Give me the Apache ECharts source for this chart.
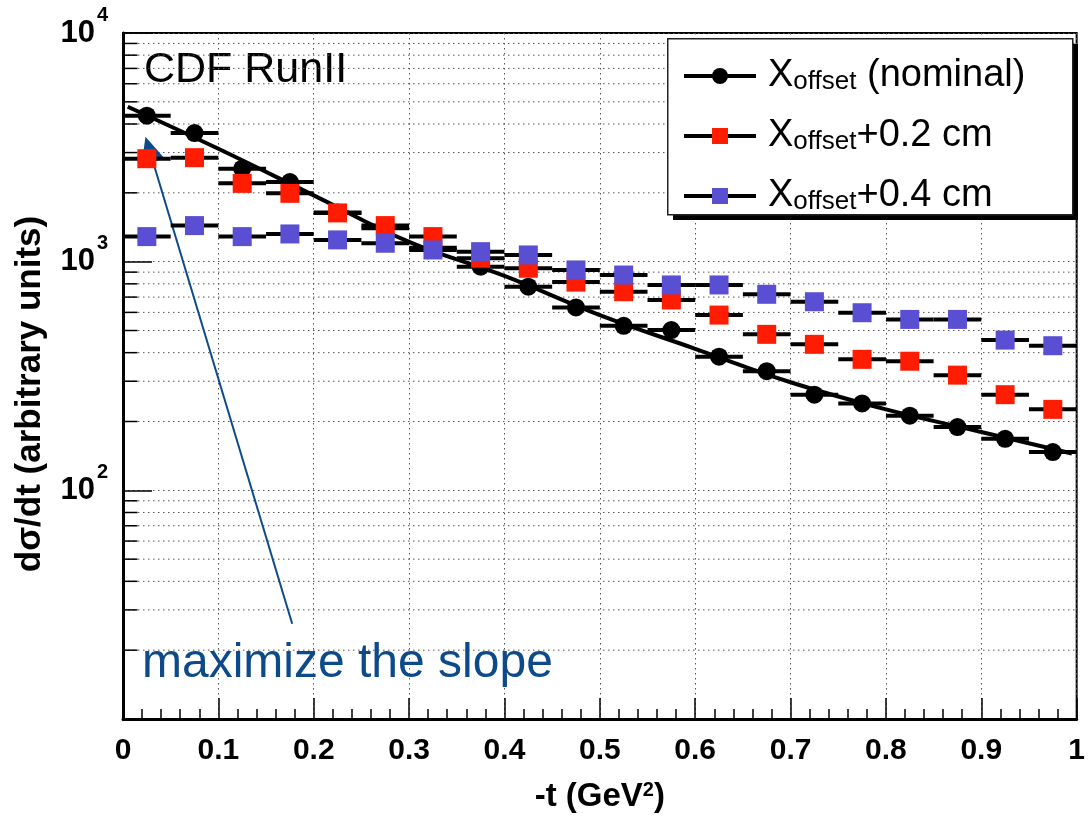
<!DOCTYPE html>
<html><head><meta charset="utf-8">
<script src="https://cdn.jsdelivr.net/npm/echarts@6/dist/echarts.min.js"></script>
<style>html,body{margin:0;padding:0;background:#fff}#c{width:1088px;height:821px}</style>
</head><body><div id="c"></div>
<script>
// ---- data ----
const binCenters = [0.025,0.075,0.125,0.175,0.225,0.275,0.325,0.375,0.425,0.475,0.525,0.575,0.625,0.675,0.725,0.775,0.825,0.875,0.925,0.975];
const binHalfWidth = 0.025;
const nominal = [4350,3650,2550,2230,1640,1400,1150,951,777,631,524,502,384,332,262,240,212,189,168,147];
const plus02  = [2820,2850,2200,1990,1634,1438,1287,1035,936,814,739,680,584,481,435,374,367,319,262,226];
const plus04  = [1287,1438,1287,1322,1245,1204,1125,1106,1070,920,874,791,791,720,668,598,559,559,454,429];
const fitT = [0.005,0.1,0.2,0.3,0.4,0.5,0.6,0.7,0.8,0.9,0.995];
const fitY = [4760,3117,1950,1220,866,584,416,297,226,180,145];
const xTickLabels = ['0','0.1','0.2','0.3','0.4','0.5','0.6','0.7','0.8','0.9','1'];
const logDecades = [10,100,1000];
const logMultipliers = [2,3,4,5,6,7,8,9];
const arrowTail = [0.1774, 26.1];
const arrowHead = [0.0275, 3100];

const minorLogValues = [];
logDecades.forEach(d => logMultipliers.forEach(m => minorLogValues.push(d*m)));

const FONT = '"Liberation Sans", Arial, Helvetica, sans-serif';
const RED = '#ff1c00', BLUE = '#5a4fd2';

function pts(vals){ return binCenters.map((t,i)=>[t, vals[i]]); }

function barSeries(vals, z){
  return {
    type:'custom', silent:true, z:z, clip:false,
    data: pts(vals),
    renderItem: function(params, api){
      const t = api.value(0), v = api.value(1);
      const a = api.coord([t - binHalfWidth, v]), b = api.coord([t + binHalfWidth, v]);
      return {type:'line', shape:{x1:a[0],y1:a[1],x2:b[0],y2:b[1]}, style:{stroke:'#000', lineWidth:4}};
    }
  };
}

function markerSeries(name, vals, symbol, size, color, z){
  return {
    type:'line', name:name, data: pts(vals), z:z,
    symbol:symbol, symbolSize:size, showSymbol:true, showAllSymbol:true,
    itemStyle:{color:color, borderWidth:0},
    lineStyle:{width:0, color:'#000'},
    emphasis:{disabled:true}, silent:true, animation:false
  };
}

const legendLabels = {
  nominal: '{x|X}{s|offset}{x| (nominal)}',
  plus02: '{x|X}{s|offset}{x|+0.2 cm}',
  plus04: '{x|X}{s|offset}{x|+0.4 cm}'
};

const chart = echarts.init(document.getElementById('c'), null, {renderer:'canvas'});
chart.setOption({
  animation:false,
  backgroundColor:'#fff',
  grid:{left:123, right:5, top:33, bottom:102, show:true, borderColor:'#000', borderWidth:2, backgroundColor:'transparent'},
  xAxis:{
    type:'value', min:0, max:1, interval:0.1,
    axisLine:{show:true, onZero:false, lineStyle:{color:'#000', width:3}},
    axisTick:{show:true, inside:true, length:21, lineStyle:{color:'#000', width:1.5}},
    minorTick:{show:true, splitNumber:5, length:10, lineStyle:{color:'#000', width:1.5}},
    splitLine:{show:true, lineStyle:{color:'#555', width:1, type:[1.5,3.5]}},
    axisLabel:{margin:17, color:'#000', fontFamily:FONT, fontWeight:'bold', fontSize:30,
      formatter: v => xTickLabels[Math.round(v*10)]},
    name:'{b|-t (GeV}{e|2}{b|)}', nameLocation:'middle', nameGap:43,
    nameTextStyle:{color:'#000', fontFamily:FONT, fontWeight:'bold',
      rich:{b:{fontSize:33, fontWeight:'bold', fontFamily:FONT, lineHeight:33, padding:[10,0,0,0], verticalAlign:'bottom'},
            e:{fontSize:20, fontWeight:'bold', fontFamily:FONT, lineHeight:20, verticalAlign:'top'}}}
  },
  yAxis:{
    type:'log', logBase:10, min:10, max:10000,
    axisLine:{show:true, onZero:false, lineStyle:{color:'#000', width:3}},
    axisTick:{show:true, inside:true, length:29, lineStyle:{color:'#000', width:1.5}},
    splitLine:{show:true, lineStyle:{color:'#555', width:1, type:[1.5,3.5]}},
    axisLabel:{margin:15, color:'#000',
      formatter: v => v < 50 ? '' : '{b|10}{e|' + Math.round(Math.log10(v)) + '}',
      rich:{b:{fontSize:31, fontWeight:'bold', fontFamily:FONT, lineHeight:56, verticalAlign:'middle'},
            e:{fontSize:20, fontWeight:'bold', fontFamily:FONT, lineHeight:20, verticalAlign:'top', padding:[0,0,0,2]}}},
    name:'dσ/dt (arbitrary units)', nameLocation:'middle', nameGap:75,
    nameTextStyle:{color:'#000', fontFamily:FONT, fontWeight:'bold', fontSize:35, padding:[0,36,0,0]}
  },
  legend:{
    data:['nominal','plus02','plus04'],
    orient:'vertical', left:667, top:38, z:20,
    padding:[7,37,0,15],
    itemWidth:72, itemHeight:20, itemGap:10,
    backgroundColor:'transparent', borderWidth:0,
    lineStyle:{color:'#000', width:4, opacity:1},
    selectedMode:false,
    formatter: n => legendLabels[n],
    textStyle:{color:'#000', fontFamily:FONT, padding:[0,0,0,7],
      rich:{x:{fontSize:38, fontFamily:FONT, lineHeight:38, verticalAlign:'top'},
            s:{fontSize:26, fontFamily:FONT, lineHeight:26, verticalAlign:'bottom', padding:[24,0,0,0]}}}
  },
  graphic:[
    {type:'rect', left:673, top:44, z:18, silent:true, shape:{x:0, y:0, width:405, height:176}, style:{fill:'#000'}},
    {type:'rect', left:667, top:38, z:19, silent:true, shape:{x:0, y:0, width:405, height:176}, style:{fill:'#fff', stroke:'#222', lineWidth:1.5}},
    {type:'text', left:144, top:49, silent:true, style:{text:'CDF RunII', font:'43px ' + FONT, fill:'#000'}},
    {type:'text', left:142, top:640, silent:true, z:100, style:{text:'maximize the slope', font:'48px ' + FONT, fill:'#0c4a8a'}}
  ],
  series:[
    {
      type:'custom', silent:true, z:1, clip:false,
      data: minorLogValues.map(v => [0, v]),
      renderItem: function(params, api){
        const v = api.value(1);
        const a = api.coord([0, v]), b = api.coord([1, v]);
        return {type:'group', children:[
          {type:'line', shape:{x1:a[0],y1:a[1],x2:b[0],y2:b[1]}, style:{stroke:'#555', lineWidth:1, lineDash:[1.5,3.5]}},
          {type:'line', shape:{x1:a[0],y1:a[1],x2:a[0]+14.5,y2:a[1]}, style:{stroke:'#000', lineWidth:1.5}}
        ]};
      }
    },
    barSeries(nominal, 2),
    markerSeries('nominal', nominal, 'circle', 18, '#000', 3),
    {
      type:'line', name:'fit', data: fitT.map((t,i)=>[t, fitY[i]]), z:4,
      smooth:0.4, showSymbol:false, symbol:'none',
      lineStyle:{color:'#000', width:4}, silent:true,
      markLine:{
        silent:true, symbol:['none','triangle'], symbolSize:[24,26],
        label:{show:false},
        lineStyle:{color:'#0c4a8a', width:2, type:'solid'},
        data:[[{coord:arrowTail}, {coord:arrowHead}]]
      }
    },
    barSeries(plus02, 5),
    markerSeries('plus02', plus02, 'rect', 19, RED, 6),
    barSeries(plus04, 7),
    markerSeries('plus04', plus04, 'rect', 19, BLUE, 8)
  ]
});
</script>
</body></html>
